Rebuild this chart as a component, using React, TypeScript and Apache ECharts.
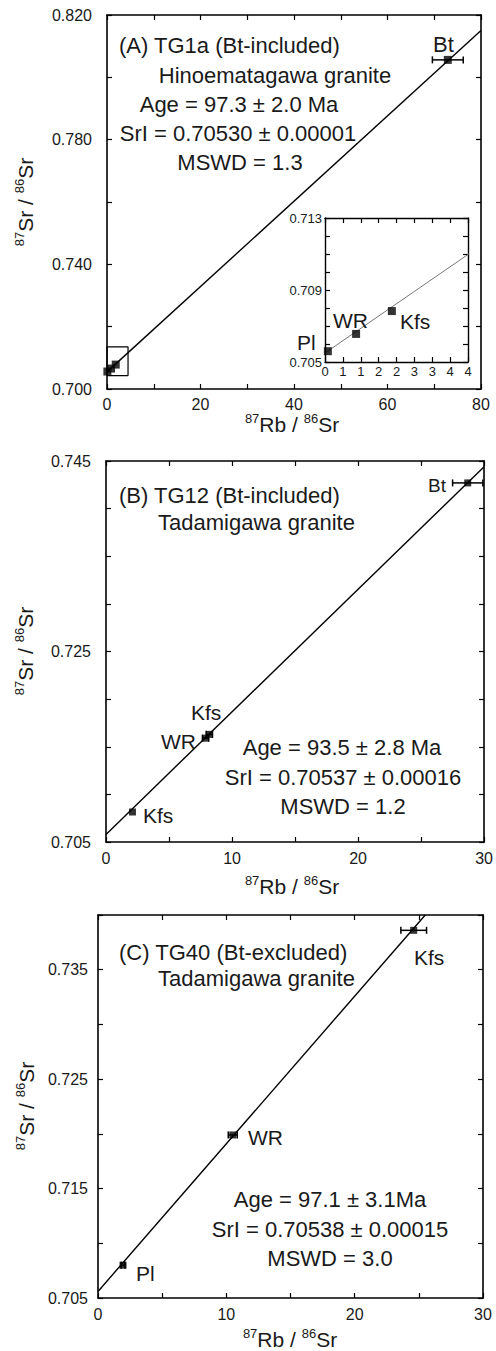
import React, { useEffect, useRef } from "react";
import * as echarts from "echarts";

const FONT = "'Liberation Sans', Arial, Helvetica, sans-serif";
const INK = "#1a1a1a";

// ---------- Panel A: TG1a (Hinoematagawa granite) ----------
const namesA = ["Pl", "WR", "Kfs", "Bt"];
const rbA = [0.08, 0.87, 1.87, 72.9];
const srA = [0.7056, 0.70656, 0.70783, 0.8056];
const errA = [0, 0, 0, 3.3];
const isoAx = [0, 80];
const isoAy = [0.7055, 0.815];
const boxAx = [0, 4.5, 4.5, 0, 0];
const boxAy = [0.7043, 0.7043, 0.7135, 0.7135, 0.7043];
const xLabelsA = ["0", "20", "40", "60", "80"];
const yLabelsA = ["0.700", "0.740", "0.780", "0.820"];
const xLabelsInset = ["0", "1", "2", "3", "4"];
const yLabelsInset = ["0.705", "0.709", "0.713"];

// ---------- Panel B: TG12 (Tadamigawa granite) ----------
const namesB = ["Kfs", "WR", "Kfs", "Bt"];
const rbB = [2.1, 7.9, 8.2, 28.7];
const srB = [0.70815, 0.7159, 0.7163, 0.7427];
const errB = [0, 0.25, 0.25, 1.2];
const isoBx = [0, 30];
const isoBy = [0.7058, 0.7444];
const xLabelsB = ["0", "10", "20", "30"];
const yLabelsB = ["0.705", "0.725", "0.745"];

// ---------- Panel C: TG40 (Tadamigawa granite) ----------
const namesC = ["Pl", "WR", "Kfs"];
const rbC = [1.95, 10.5, 24.6];
const srC = [0.708, 0.7199, 0.7386];
const errC = [0.15, 0.35, 1.0];
const isoCx = [0, 25.5];
const isoCy = [0.7056, 0.74];
const xLabelsC = ["0", "10", "20", "30"];
const yLabelsC = ["0.705", "0.715", "0.725", "0.735"];

const zip = (a: number[], b: number[]) => a.map((v, i) => [v, b[i]]);

function fmt(labels: string[], digits: number) {
  return (v: number) => {
    const s = digits === 0 ? String(Math.round(v)) : v.toFixed(digits);
    return labels.includes(s) ? s : "";
  };
}

function axesFor(
  g: number,
  x: { min: number; max: number; interval: number; labels: string[]; digits: number; margin: number },
  y: { min: number; max: number; interval: number; labels: string[]; digits: number; margin: number },
  fontSize: number,
  lw: number
) {
  const line = { show: true, onZero: false, lineStyle: { color: "#000", width: lw } };
  const tick = { show: true, inside: true, length: 5, lineStyle: { color: "#000", width: 1.2 } };
  const lab = { fontFamily: FONT, fontSize, color: INK, showMinLabel: true, showMaxLabel: true };
  const xa = [
    {
      type: "value", gridIndex: g, position: "bottom", min: x.min, max: x.max, interval: x.interval,
      axisLine: line, axisTick: tick, splitLine: { show: false },
      axisLabel: { ...lab, margin: x.margin, formatter: fmt(x.labels, x.digits) },
    },
    {
      type: "value", gridIndex: g, position: "top", min: x.min, max: x.max, interval: x.interval,
      axisLine: line, axisTick: tick, splitLine: { show: false }, axisLabel: { show: false },
    },
  ];
  const ya = [
    {
      type: "value", gridIndex: g, position: "left", min: y.min, max: y.max, interval: y.interval,
      axisLine: line, axisTick: tick, splitLine: { show: false },
      axisLabel: { ...lab, margin: y.margin, formatter: fmt(y.labels, y.digits) },
    },
    {
      type: "value", gridIndex: g, position: "right", min: y.min, max: y.max, interval: y.interval,
      axisLine: line, axisTick: tick, splitLine: { show: false }, axisLabel: { show: false },
    },
  ];
  return { xa, ya };
}

function errSeries(g: number, xs: number[], ys: number[], es: number[]) {
  const data = xs.map((v, i) => [v, ys[i], es[i]]).filter((d) => d[2] > 0);
  return {
    type: "custom",
    xAxisIndex: 2 * g,
    yAxisIndex: 2 * g,
    silent: true,
    z: 3,
    encode: { x: 0, y: 1 },
    data,
    renderItem: (params: any, api: any) => {
      const x = api.value(0);
      const y = api.value(1);
      const e = api.value(2);
      const a = api.coord([x - e, y]);
      const b = api.coord([x + e, y]);
      const cap = 3.5;
      const st = { stroke: "#000", lineWidth: 1.5 };
      return {
        type: "group",
        children: [
          { type: "line", shape: { x1: a[0], y1: a[1], x2: b[0], y2: b[1] }, style: st },
          { type: "line", shape: { x1: a[0], y1: a[1] - cap, x2: a[0], y2: a[1] + cap }, style: st },
          { type: "line", shape: { x1: b[0], y1: b[1] - cap, x2: b[0], y2: b[1] + cap }, style: st },
        ],
      };
    },
  };
}

function lineSeries(g: number, xs: number[], ys: number[], color = "#000", width = 1.4) {
  return {
    type: "line",
    xAxisIndex: 2 * g,
    yAxisIndex: 2 * g,
    data: zip(xs, ys),
    symbol: "none",
    clip: true,
    silent: true,
    z: 2,
    lineStyle: { color, width },
  };
}

function pointSeries(g: number, xs: number[], ys: number[], names: string[], size: number) {
  return {
    type: "scatter",
    xAxisIndex: 2 * g,
    yAxisIndex: 2 * g,
    data: xs.map((v, i) => ({ name: names[i], value: [v, ys[i]] })),
    symbol: "rect",
    symbolSize: size,
    itemStyle: { color: "#000" },
    silent: true,
    z: 4,
  };
}

function txt(text: string, x: number, y: number, size: number, align = "left") {
  return {
    type: "text",
    x,
    y,
    z: 10,
    style: { text, fontFamily: FONT, fontSize: size, fill: INK, align, verticalAlign: "middle" },
  };
}

function supName(main1: string, main2: string, x: number, y: number, rotate: boolean) {
  return {
    type: "text",
    x,
    y,
    rotation: rotate ? Math.PI / 2 : 0,
    z: 10,
    style: {
      text: `{s|87}{m|${main1} / }{s|86}{m|${main2}}`,
      align: "center",
      verticalAlign: "middle",
      fill: INK,
      fontFamily: FONT,
      fontSize: 20,
      rich: {
        s: { fontFamily: FONT, fontSize: 13, lineHeight: 14, verticalAlign: "top", fill: INK },
        m: { fontFamily: FONT, fontSize: 21, lineHeight: 25, verticalAlign: "middle", fill: INK },
      },
    },
  };
}

export default function App() {
  const ref = useRef<HTMLDivElement>(null);
  useEffect(() => {
    document.body.style.margin = "0";
    if (!ref.current) return;
    const chart = echarts.init(ref.current, undefined, { renderer: "svg" });

    const grids = [
      { left: 107, top: 15, width: 374, height: 374 },
      { left: 325, top: 218, width: 143, height: 144, show: true, backgroundColor: "#fff", borderWidth: 0, z: 5 },
      { left: 106, top: 461, width: 380, height: 381 },
      { left: 98, top: 915, width: 385, height: 383 },
    ];

    const A = axesFor(0,
      { min: 0, max: 80, interval: 10, labels: xLabelsA, digits: 0, margin: 7 },
      { min: 0.7, max: 0.82, interval: 0.02, labels: yLabelsA, digits: 3, margin: 15 }, 16, 1.6);
    const I = axesFor(1,
      { min: 0, max: 4, interval: 0.5, labels: xLabelsInset, digits: 0, margin: 3 },
      { min: 0.705, max: 0.713, interval: 0.001, labels: yLabelsInset, digits: 3, margin: 3 }, 13, 1.4);
    const B = axesFor(2,
      { min: 0, max: 30, interval: 5, labels: xLabelsB, digits: 0, margin: 8 },
      { min: 0.705, max: 0.745, interval: 0.005, labels: yLabelsB, digits: 3, margin: 15 }, 16, 1.6);
    const C = axesFor(3,
      { min: 0, max: 30, interval: 5, labels: xLabelsC, digits: 0, margin: 8 },
      { min: 0.705, max: 0.74, interval: 0.005, labels: yLabelsC, digits: 3, margin: 10 }, 16, 1.6);

    [...I.xa, ...I.ya].forEach((a: any) => (a.z = 6));

    const option: any = {
      animation: false,
      backgroundColor: "#fff",
      grid: grids,
      xAxis: [...A.xa, ...I.xa, ...B.xa, ...C.xa],
      yAxis: [...A.ya, ...I.ya, ...B.ya, ...C.ya],
      series: [
        lineSeries(0, isoAx, isoAy),
        { ...lineSeries(0, boxAx, boxAy, "#000", 1.2), clip: false },
        pointSeries(0, rbA, srA, namesA, 8),
        errSeries(0, rbA, srA, errA),
        { ...lineSeries(1, isoAx, isoAy, "#777", 1), z: 7 },
        { ...pointSeries(1, rbA.slice(0, 3), srA.slice(0, 3), namesA.slice(0, 3), 8), z: 8 },
        lineSeries(2, isoBx, isoBy),
        pointSeries(2, rbB, srB, namesB, 7),
        errSeries(2, rbB, srB, errB),
        lineSeries(3, isoCx, isoCy),
        pointSeries(3, rbC, srC, namesC, 7),
        errSeries(3, rbC, srC, errC),
      ],
      graphic: [
        // Panel A
        txt("(A) TG1a (Bt-included)", 119, 45, 22),
        txt("Hinoematagawa granite", 275, 75, 22, "center"),
        txt("Age = 97.3 ± 2.0 Ma", 239, 104, 22, "center"),
        txt("SrI = 0.70530 ± 0.00001", 238, 133, 22, "center"),
        txt("MSWD = 1.3", 240, 162, 22, "center"),
        txt("Bt", 433, 44, 22),
        txt("Pl", 297, 342, 21),
        txt("WR", 333, 320, 21),
        txt("Kfs", 400, 321, 21),
        supName("Rb", "Sr", 292, 424, false),
        supName("Sr", "Sr", 25, 202, true),
        // Panel B
        txt("(B) TG12 (Bt-included)", 119, 495, 22),
        txt("Tadamigawa granite", 158, 522, 22),
        txt("Bt", 428, 485, 19),
        txt("Kfs", 191, 712, 21),
        txt("WR", 161, 741, 21),
        txt("Kfs", 143, 815, 21),
        txt("Age = 93.5 ± 2.8 Ma", 342, 747, 22, "center"),
        txt("SrI = 0.70537 ± 0.00016", 343, 777, 22, "center"),
        txt("MSWD = 1.2", 343, 806, 22, "center"),
        supName("Rb", "Sr", 292, 886, false),
        supName("Sr", "Sr", 25, 651, true),
        // Panel C
        txt("(C) TG40 (Bt-excluded)", 119, 952, 22),
        txt("Tadamigawa granite", 158, 978, 22),
        txt("Kfs", 414, 957, 21),
        txt("WR", 248, 1137, 21),
        txt("Age = 97.1 ± 3.1Ma", 330, 1199, 22, "center"),
        txt("SrI = 0.70538 ± 0.00015", 330, 1229, 22, "center"),
        txt("MSWD = 3.0", 330, 1258, 22, "center"),
        txt("Pl", 136, 1273, 21),
        supName("Rb", "Sr", 290, 1339, false),
        supName("Sr", "Sr", 26, 1106, true),
      ],
    };
    chart.setOption(option);
    return () => chart.dispose();
  }, []);
  return <div ref={ref} style={{ width: 496, height: 1351 }} />;
}
